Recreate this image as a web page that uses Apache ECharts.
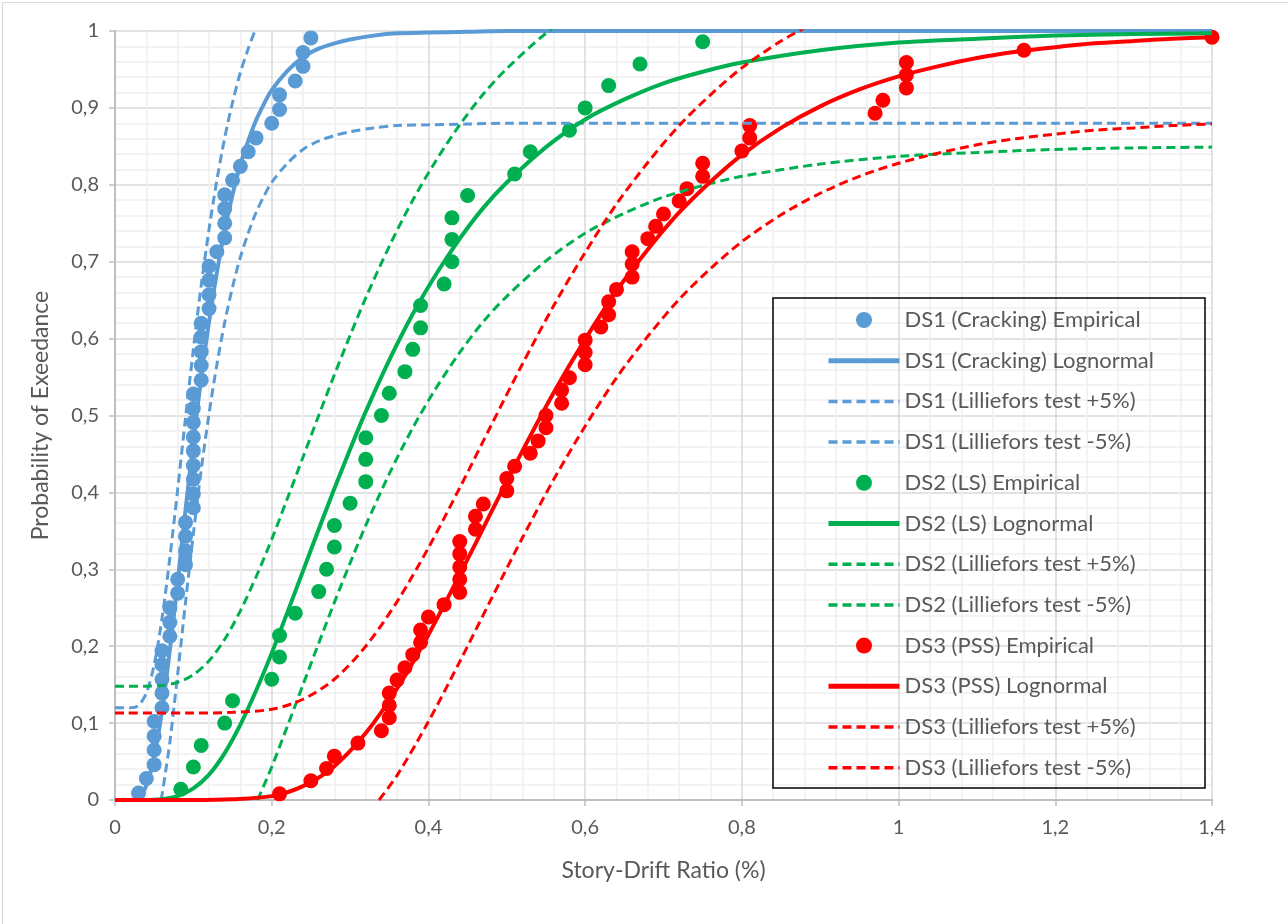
<!DOCTYPE html>
<html>
<head>
<meta charset="utf-8">
<script src="https://cdn.jsdelivr.net/npm/echarts@6/dist/echarts.min.js"></script>
<style>
html,body{margin:0;padding:0;background:#fff;}
#chart{width:1288px;height:924px;}
</style>
</head>
<body>
<div id="chart"></div>
<script>
// ---------- Empirical data ----------
const ds1EmpX = [0.03,0.04,0.05,0.05,0.05,0.05,0.06,0.06,0.06,0.06,0.06,0.07,0.07,0.07,0.08,0.08,0.09,0.09,0.09,0.09,
  0.10,0.10,0.10,0.10,0.10,0.10,0.10,0.10,0.10,0.11,0.11,0.11,0.11,0.11,0.12,0.12,0.12,0.12,0.13,0.14,0.14,0.14,0.14,
  0.15,0.16,0.17,0.18,0.20,0.21,0.21,0.23,0.24,0.24,0.25];
const ds1EmpY = [0.009,0.028,0.046,0.065,0.083,0.102,0.120,0.139,0.157,0.176,0.194,0.213,0.231,0.250,0.269,0.287,0.306,0.324,0.343,0.361,
  0.380,0.398,0.417,0.435,0.454,0.472,0.491,0.509,0.528,0.546,0.565,0.583,0.602,0.620,0.639,0.657,0.676,0.694,0.713,0.731,0.750,0.769,0.787,
  0.806,0.824,0.843,0.861,0.880,0.898,0.917,0.935,0.954,0.972,0.991];

const ds2EmpX = [0.084,0.10,0.11,0.14,0.15,0.20,0.21,0.21,0.23,0.26,0.27,0.28,0.28,0.30,0.32,0.32,0.32,0.34,0.35,0.37,
  0.38,0.39,0.39,0.42,0.43,0.43,0.43,0.45,0.51,0.53,0.58,0.60,0.63,0.67,0.75];
const ds2EmpY = [0.014,0.043,0.071,0.100,0.129,0.157,0.186,0.214,0.243,0.271,0.300,0.329,0.357,0.386,0.414,0.443,0.471,0.500,0.529,0.557,
  0.586,0.614,0.643,0.671,0.700,0.729,0.757,0.786,0.814,0.843,0.871,0.900,0.929,0.957,0.986];

const ds3EmpX = [0.21,0.25,0.27,0.28,0.31,0.34,0.35,0.35,0.35,0.36,0.37,0.38,0.39,0.39,0.40,0.42,0.44,0.44,0.44,0.44,
  0.44,0.46,0.46,0.47,0.50,0.50,0.51,0.53,0.54,0.55,0.55,0.57,0.57,0.58,0.60,0.60,0.60,0.62,0.63,0.63,
  0.64,0.66,0.66,0.66,0.68,0.69,0.70,0.72,0.73,0.75,0.75,0.80,0.81,0.81,0.97,0.98,1.01,1.01,1.01,1.16,1.40];
const ds3EmpY = [0.008,0.025,0.041,0.057,0.074,0.090,0.107,0.123,0.139,0.156,0.172,0.189,0.205,0.221,0.238,0.254,0.270,0.287,0.303,0.320,
  0.336,0.352,0.369,0.385,0.402,0.418,0.434,0.451,0.467,0.484,0.500,0.516,0.533,0.549,0.566,0.582,0.598,0.615,0.631,0.648,
  0.664,0.680,0.697,0.713,0.730,0.746,0.762,0.779,0.795,0.811,0.828,0.844,0.861,0.877,0.893,0.910,0.926,0.943,0.959,0.975,0.992];

// ---------- Fitted curves ----------
const ds1LogX = [0,0.02,0.03,0.04,0.05,0.06,0.07,0.08,0.09,0.10,0.11,0.12,0.13,0.14,0.15,0.16,0.17,0.18,0.19,0.20,0.22,0.24,0.26,0.28,0.30,0.33,0.36,0.40,0.45,0.50,0.60,0.80,1.0,1.2,1.4];
const ds1LogY = [0,0.000,0.003,0.019,0.056,0.116,0.195,0.284,0.377,0.466,0.549,0.622,0.686,0.741,0.787,0.826,0.857,0.884,0.905,0.923,0.948,0.966,0.977,0.984,0.989,0.994,0.997,0.998,0.999,1.0,1.0,1.0,1.0,1.0,1.0];
const ds1UpX = [0,0.02,0.03,0.04,0.05,0.06,0.07,0.08,0.09,0.10,0.11,0.12,0.13,0.14,0.15,0.16,0.17,0.18];
const ds1UpY = [0.12,0.12,0.123,0.139,0.176,0.236,0.315,0.404,0.497,0.586,0.669,0.742,0.806,0.861,0.907,0.946,0.977,1.004];
const ds1LoX = [0.059,0.07,0.08,0.09,0.10,0.11,0.12,0.13,0.14,0.15,0.16,0.17,0.18,0.19,0.20,0.22,0.24,0.26,0.28,0.30,0.33,0.36,0.40,0.45,0.50,0.60,0.80,1.0,1.2,1.4];
const ds1LoY = [0,0.075,0.164,0.257,0.346,0.429,0.502,0.566,0.621,0.667,0.706,0.737,0.764,0.785,0.803,0.828,0.846,0.857,0.864,0.869,0.874,0.877,0.878,0.879,0.88,0.88,0.88,0.88,0.88,0.88];

const ds2LogX = [0,0.04,0.06,0.08,0.10,0.12,0.14,0.16,0.18,0.20,0.22,0.24,0.26,0.28,0.30,0.32,0.35,0.38,0.41,0.44,0.47,0.50,0.55,0.60,0.65,0.70,0.75,0.80,0.90,1.0,1.1,1.2,1.3,1.4];
const ds2LogY = [0,0.000,0.001,0.005,0.015,0.033,0.061,0.098,0.142,0.191,0.244,0.298,0.352,0.405,0.456,0.505,0.572,0.632,0.684,0.730,0.770,0.803,0.849,0.885,0.911,0.932,0.947,0.959,0.975,0.985,0.990,0.994,0.996,0.997];
const ds2UpX = [0,0.04,0.06,0.08,0.10,0.12,0.14,0.16,0.18,0.20,0.22,0.24,0.26,0.28,0.30,0.32,0.35,0.38,0.41,0.44,0.47,0.50,0.55,0.60];
const ds2UpY = [0.148,0.148,0.149,0.153,0.163,0.181,0.209,0.246,0.290,0.339,0.392,0.446,0.500,0.553,0.604,0.653,0.720,0.780,0.832,0.878,0.918,0.951,0.997,1.033];
const ds2LoX = [0.182,0.20,0.22,0.24,0.26,0.28,0.30,0.32,0.35,0.38,0.41,0.44,0.47,0.50,0.55,0.60,0.65,0.70,0.75,0.80,0.90,1.0,1.1,1.2,1.3,1.4];
const ds2LoY = [0,0.043,0.096,0.150,0.204,0.257,0.308,0.357,0.424,0.484,0.536,0.582,0.622,0.655,0.701,0.737,0.763,0.784,0.799,0.811,0.827,0.837,0.842,0.846,0.848,0.849];

const ds3LogX = [0,0.10,0.15,0.20,0.24,0.28,0.32,0.36,0.40,0.44,0.48,0.52,0.56,0.60,0.64,0.68,0.72,0.76,0.80,0.85,0.90,0.95,1.0,1.05,1.1,1.15,1.2,1.25,1.3,1.35,1.4];
const ds3LogY = [0,0.000,0.001,0.005,0.018,0.044,0.087,0.145,0.215,0.293,0.374,0.454,0.530,0.599,0.662,0.716,0.764,0.804,0.839,0.874,0.902,0.924,0.941,0.954,0.965,0.973,0.979,0.984,0.987,0.990,0.992];
const ds3UpX = [0,0.10,0.15,0.20,0.24,0.28,0.32,0.36,0.40,0.44,0.48,0.52,0.56,0.60,0.64,0.68,0.72,0.76,0.80,0.85,0.90];
const ds3UpY = [0.113,0.113,0.114,0.118,0.131,0.157,0.200,0.258,0.328,0.406,0.487,0.567,0.643,0.712,0.775,0.829,0.877,0.917,0.952,0.987,1.015];
const ds3LoX = [0.337,0.36,0.40,0.44,0.48,0.52,0.56,0.60,0.64,0.68,0.72,0.76,0.80,0.85,0.90,0.95,1.0,1.05,1.1,1.15,1.2,1.25,1.3,1.35,1.4];
const ds3LoY = [0,0.032,0.102,0.180,0.261,0.341,0.417,0.486,0.549,0.603,0.651,0.691,0.726,0.761,0.789,0.811,0.828,0.841,0.852,0.860,0.866,0.871,0.874,0.877,0.879];

const seriesNames = [
  'DS1 (Cracking) Empirical','DS1 (Cracking) Lognormal','DS1 (Lilliefors test +5%)','DS1 (Lilliefors test -5%)',
  'DS2 (LS) Empirical','DS2 (LS) Lognormal','DS2 (Lilliefors test +5%)','DS2 (Lilliefors test -5%)',
  'DS3 (PSS) Empirical','DS3 (PSS) Lognormal','DS3 (Lilliefors test +5%)','DS3 (Lilliefors test -5%)'
];
const xTicks = {min:0, max:1.4, interval:0.2};
const yTicks = {min:0, max:1, interval:0.1};

const BLUE = '#5B9BD5', GREEN = '#00B050', RED = '#FF0000';
const FONT = 'Lato';
const SOLID_W = 4, DASH_W = 3, DASH = [9,5];

function pairs(xs, ys){ return xs.map((x,i)=>[x, ys[i]]); }
function scatter(name, xs, ys, color){
  return {name, type:'scatter', data:pairs(xs,ys), symbol:'circle', symbolSize:15,
    itemStyle:{color:color, opacity:1}};
}
function curve(name, xs, ys, color, dashed){
  return {name, type:'line', data:pairs(xs,ys), symbol:'none', showSymbol:false,
    smooth:0.3, clip:true,
    itemStyle:{color:color},
    lineStyle:{color:color, width: dashed ? DASH_W : SOLID_W, type: dashed ? DASH : 'solid', cap:'butt'}};
}
const fmt = v => String(Math.round(v*10)/10).replace('.', ',');

// legend entries: hide the symbol that ECharts adds to line icons
const legendData = seriesNames.map((n, i) => {
  const kind = i % 4;
  if (kind === 0) return {name:n};
  return {name:n, itemStyle:{opacity:0},
    lineStyle:{width: kind === 1 ? 5 : 3.5, type: kind === 1 ? 'solid' : DASH}};
});

const chart = echarts.init(document.getElementById('chart'), null, {renderer:'canvas'});
const option = {
  animation:false,
  backgroundColor:'#fff',
  textStyle:{fontFamily:FONT},
  grid:{left:115, right:76, top:31, bottom:124, containLabel:false},
  xAxis:{
    type:'value', min:xTicks.min, max:xTicks.max, interval:xTicks.interval,
    name:'Story-Drift Ratio (%)', nameLocation:'middle', nameGap:59,
    nameTextStyle:{fontSize:23, color:'#595959', fontFamily:FONT},
    axisLine:{show:true, onZero:false, lineStyle:{color:'#bfbfbf', width:2}},
    axisTick:{show:true, length:6, lineStyle:{color:'#bfbfbf', width:1.5}},
    axisLabel:{formatter:fmt, fontSize:20, color:'#595959', margin:18, fontFamily:FONT},
    splitLine:{show:true, lineStyle:{color:'#d9d9d9', width:1.5}},
    minorTick:{show:false, splitNumber:5},
    minorSplitLine:{show:true, lineStyle:{color:'#f0f0f0', width:1.5}}
  },
  yAxis:{
    type:'value', min:yTicks.min, max:yTicks.max, interval:yTicks.interval,
    name:'Probability of Exeedance', nameLocation:'middle', nameGap:63,
    nameTextStyle:{fontSize:23, color:'#595959', fontFamily:FONT},
    axisLine:{show:true, lineStyle:{color:'#bfbfbf', width:2}},
    axisTick:{show:true, length:6, lineStyle:{color:'#bfbfbf', width:1.5}},
    axisLabel:{formatter:fmt, fontSize:20, color:'#595959', margin:16, fontFamily:FONT},
    splitLine:{show:true, lineStyle:{color:'#d9d9d9', width:1.5}},
    minorTick:{show:false, splitNumber:5},
    minorSplitLine:{show:true, lineStyle:{color:'#f0f0f0', width:1.5}}
  },
  legend:{
    orient:'vertical', left:826, top:309, padding:0,
    itemWidth:71, itemHeight:16, itemGap:18.7, selectedMode:false,
    textStyle:{fontSize:22, lineHeight:22, color:'#595959', fontFamily:FONT},
    data:legendData
  },
  graphic:[
    {type:'rect', left:0, top:0, shape:{x:0.5,y:0.5,width:1287,height:923}, style:{fill:'none', stroke:'#d9d9d9', lineWidth:1}, silent:true, z:-10},
    {type:'rect', shape:{x:773,y:298,width:432,height:490}, style:{fill:'none', stroke:'#000', lineWidth:1.5}, silent:true, z:100}
  ],
  series:[
    scatter(seriesNames[0], ds1EmpX, ds1EmpY, BLUE),
    curve(seriesNames[1], ds1LogX, ds1LogY, BLUE, false),
    curve(seriesNames[2], ds1UpX, ds1UpY, BLUE, true),
    curve(seriesNames[3], ds1LoX, ds1LoY, BLUE, true),
    scatter(seriesNames[4], ds2EmpX, ds2EmpY, GREEN),
    curve(seriesNames[5], ds2LogX, ds2LogY, GREEN, false),
    curve(seriesNames[6], ds2UpX, ds2UpY, GREEN, true),
    curve(seriesNames[7], ds2LoX, ds2LoY, GREEN, true),
    scatter(seriesNames[8], ds3EmpX, ds3EmpY, RED),
    curve(seriesNames[9], ds3LogX, ds3LogY, RED, false),
    curve(seriesNames[10], ds3UpX, ds3UpY, RED, true),
    curve(seriesNames[11], ds3LoX, ds3LoY, RED, true)
  ]
};
chart.setOption(option);
</script>
</body>
</html>
